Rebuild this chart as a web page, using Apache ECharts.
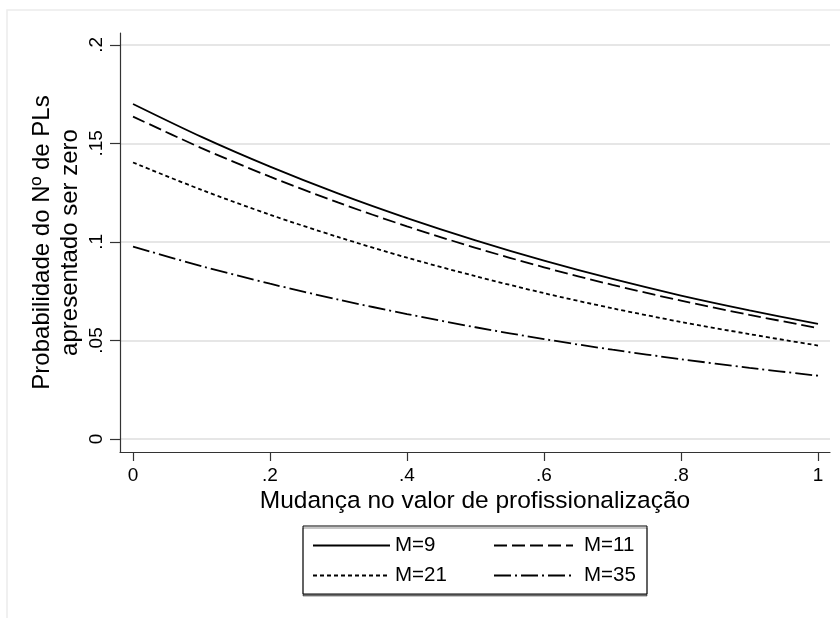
<!DOCTYPE html>
<html><head><meta charset="utf-8">
<script src="https://cdn.jsdelivr.net/npm/echarts@6/dist/echarts.min.js"></script>
<style>html,body{margin:0;padding:0;background:#fff}#c{width:840px;height:618px}</style>
</head><body><div id="c"></div>
<script>
const xValues = [0, 0.1, 0.2, 0.3, 0.4, 0.5, 0.6, 0.7, 0.8, 0.9, 1];
const m9  = [0.170, 0.1533, 0.1382, 0.1245, 0.1121, 0.1008, 0.0905, 0.0812, 0.0728, 0.0653, 0.0584];
const m11 = [0.1636, 0.1476, 0.1331, 0.1199, 0.1079, 0.0970, 0.0871, 0.0782, 0.0702, 0.0630, 0.0563];
const m21 = [0.1403, 0.1264, 0.1138, 0.1024, 0.0920, 0.0826, 0.0740, 0.0663, 0.0594, 0.0532, 0.0474];
const m35 = [0.0976, 0.0877, 0.0788, 0.0707, 0.0634, 0.0567, 0.0507, 0.0453, 0.0405, 0.0361, 0.0321];
const seriesNames = ['M=9', 'M=11', 'M=21', 'M=35'];
const xTicks = [0, 0.2, 0.4, 0.6, 0.8, 1];
const xTickLabels = ['0', '.2', '.4', '.6', '.8', '1'];
const yTicks = [0, 0.05, 0.1, 0.15, 0.2];
const yTickLabels = ['0', '.05', '.1', '.15', '.2'];
const xTitle = 'Mudança no valor de profissionalização';
const yTitle = 'Probabilidade do Nº de PLs\napresentado ser zero';

const FONT = '"Liberation Sans", Arial, sans-serif';
const dashTypes = ['solid', [13, 5], [4, 3], [17, 4, 2, 4]];
const allData = [m9, m11, m21, m35];
const legendPos = [[312, 535, 77, 0], [493, 535, 79, 6], [312, 565, 77, 0], [493, 565, 79, 6]];

function fmt(v, ticks, labels) {
  for (let i = 0; i < ticks.length; i++) if (Math.abs(ticks[i] - v) < 1e-9) return labels[i];
  return '';
}

const chart = echarts.init(document.getElementById('c'), null, {renderer: 'canvas'});
chart.setOption({
  animation: false,
  backgroundColor: '#fff',
  graphic: [
    {type: 'rect', shape: {x: 7, y: 10, width: 900, height: 700}, style: {fill: 'none', stroke: '#ececec', lineWidth: 1.5}, z: -1},
    {type: 'rect', shape: {x: 303, y: 526, width: 344, height: 68}, style: {fill: '#fff', stroke: '#000', lineWidth: 1, shadowColor: 'rgba(0,0,0,0.45)', shadowOffsetY: 2, shadowOffsetX: 0, shadowBlur: 0}, z: 0}
  ],
  grid: {left: 120, top: 33, right: 10, bottom: 166, containLabel: false},
  xAxis: {
    type: 'value', min: -0.019, max: 1.0175,
    name: xTitle, nameLocation: 'middle', nameGap: 37, nameMoveOverlap: false,
    nameTextStyle: {fontFamily: FONT, fontSize: 24.5, color: '#000'},
    axisLine: {show: true, onZero: false, lineStyle: {color: '#333', width: 1.2}},
    axisTick: {show: true, length: 9, customValues: xTicks, lineStyle: {color: '#333', width: 1.2}},
    axisLabel: {customValues: xTicks, margin: 14, fontFamily: FONT, fontSize: 19, color: '#000', formatter: v => fmt(v, xTicks, xTickLabels)},
    splitLine: {show: false}
  },
  yAxis: {
    type: 'value', min: -0.0066, max: 0.206,
    name: yTitle, nameLocation: 'middle', nameGap: 36, nameMoveOverlap: false,
    nameTextStyle: {fontFamily: FONT, fontSize: 24, color: '#000', lineHeight: 28},
    axisLine: {show: true, onZero: false, lineStyle: {color: '#333', width: 1.2}},
    axisTick: {show: true, length: 10, customValues: yTicks, lineStyle: {color: '#333', width: 1.2}},
    axisLabel: {customValues: yTicks, rotate: 90, margin: 14, fontFamily: FONT, fontSize: 19, color: '#000', formatter: v => fmt(v, yTicks, yTickLabels)},
    splitLine: {show: true, lineStyle: {color: '#e6e6e6', width: 2}}
  },
  legend: seriesNames.map((n, i) => ({
    data: [n], left: legendPos[i][0], top: legendPos[i][1], padding: 0,
    itemWidth: legendPos[i][2], itemHeight: 14, selectedMode: false,
    itemStyle: {opacity: 0, color: 'transparent', borderWidth: 0},
    textStyle: {fontFamily: FONT, fontSize: 20.5, color: '#000', padding: [0, 0, 0, legendPos[i][3]]}
  })),
  series: seriesNames.map((n, i) => ({
    name: n, type: 'line', showSymbol: false, symbol: 'none', smooth: 0.3,
    data: xValues.map((x, j) => [x, allData[i][j]]),
    lineStyle: {color: '#000', width: 1.8, type: dashTypes[i]},
    itemStyle: {color: '#000'}, z: 3
  }))
});
</script></body></html>
